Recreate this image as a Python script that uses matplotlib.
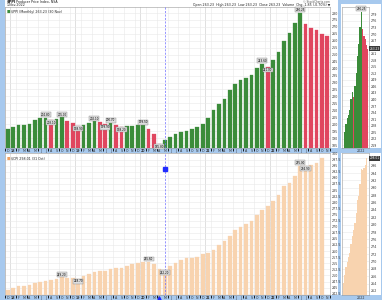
import matplotlib
matplotlib.use('Agg')
import matplotlib.pyplot as plt
import numpy as np
from matplotlib.patches import Rectangle

W, H = 382, 300

# ---------------- data (monthly, Dec 2017 .. Nov 2022) ----------------
month_letters = (['D'] + ['J', 'F', 'M', 'A', 'M', 'J', 'J', 'A', 'S', 'O', 'N', 'D'] * 4
                 + ['J', 'F', 'M', 'A', 'M', 'J', 'J', 'A', 'S', 'O', 'N'])
year_labels = {1: '18', 13: '19', 25: '20', 37: '21', 49: '22'}

ppi = [196.4, 197.8, 199.3, 199.6, 200.2, 203.1, 204.3, 204.8, 203.1, 203.6,
       205.0, 202.6, 201.1, 198.9, 199.5, 200.7, 202.1, 201.6, 199.9, 200.7,
       199.5, 198.2, 198.9, 199.0, 199.1, 199.5, 196.4, 193.0, 185.8, 188.7,
       191.0, 193.0, 194.2, 195.4, 196.6, 198.0, 200.4, 204.7, 210.5, 214.8,
       218.0, 224.9, 228.7, 231.6, 233.0, 235.2, 240.2, 243.6, 241.0, 246.2,
       252.2, 259.9, 265.4, 273.1, 280.25, 272.1, 269.2, 267.8, 265.08, 263.23]

cpi = [244.0, 245.0, 245.7, 245.8, 246.2, 246.9, 247.3, 247.8, 248.2, 248.7,
       249.2, 249.1, 248.9, 248.7, 249.6, 250.6, 251.4, 251.7, 251.8, 252.5,
       252.9, 253.0, 254.0, 254.7, 255.0, 255.4, 255.6, 254.7, 252.8, 252.2,
       253.9, 255.2, 256.3, 257.0, 257.05, 257.4, 258.7, 259.1, 260.4, 262.3,
       264.1, 266.2, 268.6, 269.9, 271.1, 272.3, 274.8, 276.8, 278.5, 280.5,
       283.1, 286.8, 287.8, 290.9, 295.0, 294.9, 295.3, 296.2, 298.01]

ppi_highs = [7, 10, 16, 19, 25, 47, 54]
ppi_lows = [8, 13, 18, 21, 28, 48]
cpi_highs = [10, 26, 54]
cpi_lows = [13, 29, 55]
marker_month = 29
event_marker_level = 293.6
side_start = 40

# ---------------- styling ----------------
BLUE_BG = '#a7c9ee'
GREEN = '#3b8c3a'
RED = '#e0465f'
PEACH = '#f8d3af'
GRID = '#e9e9e9'
FS = 2.3

fig = plt.figure(figsize=(W / 100, H / 100), dpi=100)
fig.patch.set_facecolor(BLUE_BG)


def px_rect(x0, y0, x1, y1):
    return [x0 / W, 1 - y1 / H, (x1 - x0) / W, (y1 - y0) / H]


# white containers
for (x0, y0, x1, y1) in [(5, 0, 338, 148), (5, 153, 338, 295),
                         (341, 4, 381, 148), (341, 153, 381, 295)]:
    fig.add_artist(Rectangle((x0 / W, 1 - y1 / H), (x1 - x0) / W, (y1 - y0) / H,
                             transform=fig.transFigure, facecolor='white',
                             edgecolor='none', zorder=0))

ax1 = fig.add_axes(px_rect(5, 6.5, 330, 148))
ax2 = fig.add_axes(px_rect(5, 153, 330, 295))
axs1 = fig.add_axes(px_rect(342, 6.5, 369, 148))
axs2 = fig.add_axes(px_rect(342, 153, 369, 295))

n = len(ppi)
x = np.arange(n)
ppi_colors = [GREEN] + [GREEN if ppi[i] >= ppi[i - 1] else RED for i in range(1, n)]

# ---------------- main panels ----------------
y1min, y1max = 182.9, 284.7
ax1.bar(x, np.array(ppi) - y1min, bottom=y1min, width=0.68, color=ppi_colors,
        edgecolor=ppi_colors, linewidth=0.2, zorder=3)
ax1.set_ylim(y1min, y1max)
ax1.set_xlim(-0.31, 59.46)

ax2_x = np.arange(len(cpi))
y2min, y2max = 242.0, 300.2
ax2.bar(ax2_x, np.array(cpi) - y2min, bottom=y2min, width=0.68, color=PEACH,
        edgecolor=PEACH, linewidth=0.2, zorder=3)
ax2.set_ylim(y2min, y2max)
ax2.set_xlim(-0.31, 59.46)

for ax, step, lo, hi in [(ax1, 5, 185, 281), (ax2, 2.5, 242.5, 300.1)]:
    ax.yaxis.tick_right()
    ticks = np.arange(lo, hi, step)
    ax.set_yticks(ticks)
    ax.set_yticklabels([('%g' % t) for t in ticks], fontsize=FS)
    ax.tick_params(axis='y', length=0, pad=1, colors='#333333')
    ax.set_xticks(x)
    labels = [year_labels.get(i, month_letters[i]) for i in x]
    ax.set_xticklabels(labels, fontsize=FS)
    for i, t in enumerate(ax.get_xticklabels()):
        if i in year_labels:
            t.set_fontweight('bold')
    ax.tick_params(axis='x', length=0, pad=0.6, colors='#333333')
    ax.set_xticks(np.arange(-0.5, 60, 2), minor=True)
    ax.grid(True, axis='y', color=GRID, linewidth=0.4, zorder=0)
    ax.grid(True, axis='x', which='minor', color=GRID, linewidth=0.4, zorder=0)
    for k in year_labels:
        ax.axvline(k - 0.5, color='#cfcfcf', linewidth=0.45, zorder=1)
    for s in ax.spines.values():
        s.set_color('#9a9a9a')
        s.set_linewidth(0.4)
    ax.axvline(marker_month, color='#6a6aff', linewidth=0.5, linestyle=(0, (3, 2)), zorder=4)

box = dict(boxstyle='square,pad=0.15', fc='#dedede', ec='#8a8a8a', lw=0.3)


def price_labels(ax, vals, highs, lows):
    for i in highs:
        ax.annotate('%.2f' % vals[i], (i, vals[i]), xytext=(0, 2.0), textcoords='offset points',
                    ha='center', va='center', fontsize=2.0, bbox=box, zorder=6)
    for i in lows:
        ax.annotate('%.2f' % vals[i], (i, vals[i]), xytext=(0, -2.0), textcoords='offset points',
                    ha='center', va='center', fontsize=2.0, bbox=box, zorder=6)


price_labels(ax1, ppi, ppi_highs, ppi_lows)
price_labels(ax2, cpi, cpi_highs, cpi_lows)

ax2.plot([marker_month], [event_marker_level], marker='s', color='#1f2bff',
         markersize=2.2, zorder=7)

# legends inside panels
ax1.text(0.006, 0.975, '\u25a0', transform=ax1.transAxes, fontsize=2.6, color=GREEN, va='top')
ax1.text(0.018, 0.975, '$PPI (Monthly) 263.23 (30 Nov)', transform=ax1.transAxes,
         fontsize=FS, va='top', color='#222222')
ax2.text(0.006, 0.975, '\u25a0', transform=ax2.transAxes, fontsize=2.6, color='#f0a060', va='top')
ax2.text(0.018, 0.975, '$CPI 298.01 (31 Oct)', transform=ax2.transAxes,
         fontsize=FS, va='top', color='#222222')

# ---------------- side panels ----------------
sx = np.arange(side_start, n)
axs1.bar(sx, np.array(ppi[side_start:]) - 217.8, bottom=217.8, width=1.0,
         color=ppi_colors[side_start:], linewidth=0, zorder=3)
axs1.set_xlim(39, 60)
axs1.set_ylim(217.8, 282.6)
sx2 = np.arange(side_start, len(cpi))
axs2.bar(sx2, np.array(cpi[side_start:]) - 260.9, bottom=260.9, width=1.0,
         color=PEACH, linewidth=0, zorder=3)
axs2.set_xlim(39, 60)
axs2.set_ylim(260.9, 299.45)

for ax, lo, hi, step, last, gap in [(axs1, 219, 282, 3, ppi[-1], 2.2),
                                    (axs2, 262, 299.5, 2, cpi[-1], 1.3)]:
    ax.yaxis.tick_right()
    ticks = np.arange(lo, hi, step)
    ax.set_yticks(ticks)
    ax.set_yticklabels([('%g' % t) if abs(t - last) > gap else '' for t in ticks], fontsize=FS)
    ax.tick_params(axis='y', length=0, pad=1, colors='#333333')
    ax.set_xticks([54])
    ax.set_xticklabels(['2022'], fontsize=FS)
    ax.tick_params(axis='x', length=0, pad=0.6, colors='#333333')
    ax.grid(True, axis='y', color=GRID, linewidth=0.4, zorder=0)
    for s in ax.spines.values():
        s.set_color('#9a9a9a')
        s.set_linewidth(0.4)

axs1.annotate('%.2f' % ppi[54], (54, ppi[54]), xytext=(0, 2.0), textcoords='offset points',
              ha='center', va='center', fontsize=2.0, bbox=box, zorder=6)
dark = dict(boxstyle='square,pad=0.12', fc='#3a3a3a', ec='none')
axs1.annotate('%.2f' % ppi[-1], xy=(1.0, ppi[-1]), xycoords=('axes fraction', 'data'),
              xytext=(0.6, 0), textcoords='offset points', ha='left', va='center',
              fontsize=2.1, color='white', bbox=dark, zorder=8, annotation_clip=False)
axs2.annotate('%.2f' % cpi[-1], xy=(1.0, cpi[-1]), xycoords=('axes fraction', 'data'),
              xytext=(0.6, 0), textcoords='offset points', ha='left', va='center',
              fontsize=2.1, color='white', bbox=dark, zorder=8, annotation_clip=False)

# ---------------- header ----------------
fig.text(7 / W, 1 - 2.2 / H, '$PPI', fontsize=2.6, fontweight='bold', va='center', color='#111111')
fig.text(16 / W, 1 - 2.2 / H, 'Producer Price Index, NSA', fontsize=FS, va='center', color='#222222')
fig.text(7 / W, 1 - 5.2 / H, '1-Nov-2022', fontsize=FS, va='center', color='#222222')
fig.text(330 / W, 1 - 1.8 / H, '\u00a9 StockCharts.com', fontsize=2.0, ha='right', va='center', color='#555555')
fig.text(330 / W, 1 - 5.0 / H,
         'Open 263.23  High 263.23  Low 263.23  Close 263.23  Volume  Chg -1.85 (-0.70%) \u25bc',
         fontsize=FS, ha='right', va='center', color='#222222')

# blue arrow at the bottom strip
arrow, = ax2.plot([marker_month - 1], [-0.02], marker='^', color='#1f2bff', markersize=2.2,
                  transform=ax2.get_xaxis_transform(), clip_on=False, zorder=8)

fig.savefig('out.png', dpi=100, facecolor=fig.get_facecolor())
